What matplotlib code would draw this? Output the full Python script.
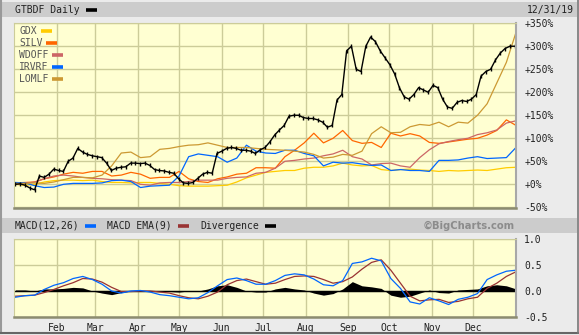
import numpy as np
import pandas as pd
import matplotlib
matplotlib.use("Agg")
import matplotlib.pyplot as plt
from matplotlib.lines import Line2D
from matplotlib.patches import Rectangle

W, H = 579, 335

# fechas: semanal (2 ene .. 31 dic 2019) y GTBDF unas dos veces por semana
semanas = pd.date_range("2019-01-02", periods=53, freq="7D")
dias_gtbdf = pd.date_range("2019-01-02", "2019-12-31", periods=105)

meses = pd.date_range("2019-02-01", periods=11, freq="MS")
meses_txt = ["Feb", "Mar", "Apr", "May", "Jun", "Jul", "Aug", "Sep", "Oct", "Nov", "Dec"]

# % de cambio GTBDF
gtbdf = [0, 1, -2, -8, -12, 18, 15, 22, 33, 30, 28, 50, 57, 78, 70, 65, 62, 60, 58, 46,
         30, 35, 37, 38, 46, 46, 45, 46, 41, 32, 30, 29, 26, 24, 12, 3, 2, 4, 13, 22,
         26, 24, 67, 72, 78, 80, 78, 74, 74, 72, 67, 75, 80, 92, 107, 118, 128, 148, 150, 150,
         145, 143, 143, 140, 135, 124, 128, 183, 195, 290, 300, 250, 245, 300, 320, 310, 290, 275, 260, 240,
         210, 190, 185, 195, 210, 205, 200, 215, 210, 185, 168, 165, 178, 182, 180, 185, 195, 235, 245, 250,
         270, 285, 295, 300, 300]

gdx = [0, -2, 0, 5, 8, 9, 9, 8, 9, 6, 4, 4, 3, 4, 4, 2, 0, -3, -4, -4,
       -4, -3, -2, 5, 14, 20, 26, 28, 30, 30, 35, 37, 37, 40, 46, 42, 40, 41, 32, 30,
       32, 33, 31, 30, 28, 30, 29, 30, 31, 30, 33, 36, 37]
silv = [3, 4, 5, 12, 16, 22, 26, 24, 28, 28, 18, 20, 26, 22, 13, 15, 15, 28, 12, 6,
        4, 12, 16, 22, 24, 36, 36, 35, 60, 74, 90, 111, 90, 100, 117, 95, 89, 91, 80, 111,
        105, 110, 105, 91, 89, 92, 95, 98, 100, 107, 117, 140, 128]
wdoff = [0, 2, 5, 12, 18, 20, 18, 15, 13, 12, 10, 9, 8, 0, -2, 3, 4, 4, 6, 9,
         9, 9, 13, 15, 16, 24, 26, 35, 50, 52, 55, 57, 62, 66, 74, 60, 55, 42, 45, 46,
         40, 37, 58, 75, 88, 93, 97, 100, 108, 112, 118, 133, 138]
irvrf = [4, 3, -3, -7, -6, 0, 2, 2, 2, 3, 8, 9, 6, -7, -4, -3, -2, 18, 60, 66,
         63, 60, 48, 57, 85, 72, 68, 67, 74, 74, 67, 62, 40, 48, 46, 47, 44, 41, 42, 30,
         32, 30, 30, 28, 52, 52, 53, 57, 60, 56, 57, 58, 80]
lomlf = [2, 2, 3, 2, 5, 10, 15, 15, 14, 20, 40, 68, 70, 58, 60, 76, 78, 82, 85, 86,
         90, 85, 80, 80, 80, 78, 76, 75, 74, 72, 70, 65, 57, 59, 65, 63, 72, 110, 125, 112,
         113, 125, 130, 128, 135, 125, 135, 133, 150, 175, 220, 265, 330]

# MACD(12,26), EMA(9) y divergencia
macd = [-0.12, -0.09, -0.08, 0.03, 0.11, 0.16, 0.24, 0.28, 0.22, 0.13, 0.0, -0.04, 0.0, 0.01, -0.02,
        -0.07, -0.09, -0.12, -0.15, -0.13, -0.03, 0.1, 0.22, 0.25, 0.2, 0.13, 0.13, 0.2, 0.3, 0.33,
        0.31, 0.23, 0.12, 0.1, 0.2, 0.53, 0.56, 0.63, 0.58, 0.24, 0.05, -0.21, -0.25, -0.13, -0.19,
        -0.26, -0.16, -0.12, -0.05, 0.22, 0.31, 0.38, 0.4]
macd_ema = [-0.1, -0.09, -0.08, -0.03, 0.03, 0.1, 0.16, 0.24, 0.23, 0.17, 0.07, -0.01, -0.01, 0.0, 0.0,
            -0.02, -0.04, -0.09, -0.13, -0.15, -0.1, -0.02, 0.12, 0.2, 0.23, 0.18, 0.13, 0.15, 0.22, 0.28,
            0.29, 0.28, 0.22, 0.15, 0.18, 0.27, 0.42, 0.55, 0.6, 0.4, 0.15, -0.1, -0.19, -0.17, -0.16,
            -0.22, -0.2, -0.15, -0.12, 0.05, 0.15, 0.28, 0.37]
divergencia = [0.02, 0.02, 0.0, 0.04, 0.04, 0.05, 0.07, 0.06, 0.0, -0.04, -0.07, -0.03, 0.0, 0.01, 0.0,
               -0.01, -0.01, -0.02, 0.0, 0.0, 0.04, 0.1, 0.12, 0.07, 0.0, -0.02, -0.02, 0.04, 0.07, 0.04,
               0.02, -0.04, -0.08, -0.05, 0.04, 0.18, 0.1, 0.08, 0.05, -0.08, -0.12, -0.1, -0.04, 0.02, -0.03,
               -0.04, 0.02, 0.03, 0.04, 0.1, 0.12, 0.1, 0.04]

serie_nombres = ["GDX", "SILV", "WDOFF", "IRVRF", "LOMLF"]
serie_colores = ["#ffcc00", "#ff6600", "#cc6666", "#0066ff", "#cc9933"]
series = [gdx, silv, wdoff, irvrf, lomlf]

fondo = "#ebebeb"
barra = "#cccccc"
amarillo = "#ffffd2"
rejilla = "#cccc99"
mono = "DejaVu Sans Mono"


def fx(x):
    return x / W


def fy(y):
    return 1 - y / H


figura = plt.figure(figsize=(W / 100, H / 100), dpi=100, facecolor=fondo)

# barras grises de cabecera
figura.patches.append(Rectangle((fx(2), fy(17)), fx(575), 15 / H, transform=figura.transFigure,
                                facecolor=barra, edgecolor="none", zorder=0))
figura.patches.append(Rectangle((fx(2), fy(233)), fx(575), 15 / H, transform=figura.transFigure,
                                facecolor=barra, edgecolor="none", zorder=0))
# marco exterior
figura.add_artist(Line2D([fx(0.5), fx(0.5)], [fy(0), fy(333)], color="#999999", lw=1.5))
figura.add_artist(Line2D([fx(0), fx(578)], [fy(333), fy(333)], color="#666666", lw=1.5))
figura.add_artist(Line2D([fx(577.5), fx(577.5)], [fy(0), fy(333)], color="#777777", lw=1.2))


def muestra(x, y, color, ancho=11):
    figura.add_artist(Line2D([fx(x), fx(x + ancho)], [fy(y), fy(y)], color=color, lw=2.6,
                             solid_capstyle="butt"))


def texto(x, y, s, color="#222222", **kw):
    figura.text(fx(x), fy(y), s, fontsize=7, family=mono, color=color, va="center", **kw)


texto(15, 10, "GTBDF Daily")
muestra(86, 10, "black")
texto(574, 10, "12/31/19", ha="right")

texto(15, 226, "MACD(12,26)")
muestra(85, 226, "#0066ff")
texto(107, 226, "MACD EMA(9)")
muestra(178, 226, "#993333")
texto(200, 226, "Divergence")
muestra(265, 226, "black")
figura.text(fx(515), fy(226), "\u00a9BigCharts.com", fontsize=7.2, family="DejaVu Sans",
            weight="bold", color="#8c8c8c", ha="right", va="center")

# leyenda
for k, (nombre, color) in enumerate(zip(serie_nombres, serie_colores)):
    yy = 31 + k * 12
    texto(19, yy, nombre, color="#555555")
    muestra(19 + len(nombre) * 5.85 + 4, yy, color)


def estilo(ax):
    ax.set_facecolor(amarillo)
    ax.set_xlim(pd.Timestamp("2019-01-01"), pd.Timestamp("2020-01-01"))
    ax.set_xticks(meses)
    ax.grid(True, color=rejilla, lw=1)
    ax.set_axisbelow(True)
    ax.yaxis.tick_right()
    ax.tick_params(length=0, labelsize=7, pad=6, colors="#222222")
    for lab in ax.get_yticklabels() + ax.get_xticklabels():
        lab.set_family(mono)
    ax.spines["top"].set_color(rejilla)
    ax.spines["left"].set_color(rejilla)
    ax.spines["bottom"].set_color("#8c8c70")
    ax.spines["bottom"].set_linewidth(1.8)
    ax.spines["right"].set_color("#a8a8a8")
    ax.spines["right"].set_linewidth(1.5)


# panel principal
ax = figura.add_axes([fx(14), fy(208), 502 / W, 185 / H])
for datos, color in zip(series, serie_colores):
    ax.plot(semanas, datos, color=color, lw=0.9)
# barras diarias estilo OHLC: línea con marcas verticales
ax.plot(dias_gtbdf, gtbdf, color="black", lw=1.0, marker="|", ms=3.5, mew=1.0)
ax.set_ylim(-51.5, 350.5)
niveles = [-50, 0, 50, 100, 150, 200, 250, 300, 350]
ax.set_yticks(niveles)
ax.set_yticklabels([("+%d%%" % v) if v >= 0 else ("%d%%" % v) for v in niveles])
ax.set_xticklabels([])
estilo(ax)
for lab in ax.get_yticklabels():
    lab.set_horizontalalignment("left")

# panel MACD
ax2 = figura.add_axes([fx(14), fy(317), 502 / W, 78 / H])
ax2.fill_between(semanas, 0, divergencia, color="black", lw=0)
ax2.axhline(0, color="black", lw=1)
ax2.plot(semanas, macd_ema, color="#993333", lw=0.9)
ax2.plot(semanas, macd, color="#0066ff", lw=0.9)
ax2.set_ylim(-0.5, 1.0)
ax2.set_yticks([-0.5, 0.0, 0.5, 1.0])
ax2.set_yticklabels(["-0.5", "0.0", "0.5", "1.0"])
ax2.set_xticklabels(meses_txt)
estilo(ax2)
ax2.tick_params(axis="x", pad=4)

figura.savefig("out.png", dpi=100, facecolor=fondo)
